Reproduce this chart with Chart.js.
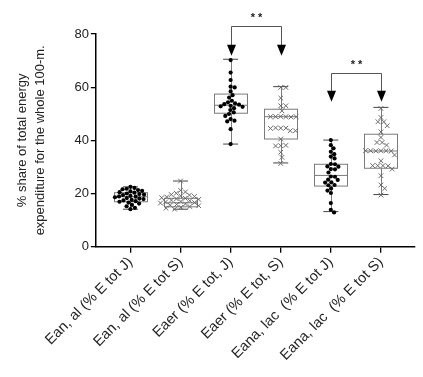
<!DOCTYPE html>
<html>
<head>
<meta charset="utf-8">
<script src="https://cdn.jsdelivr.net/npm/chart.js@4.4.0/dist/chart.umd.min.js"></script>
<style>
  html, body { margin: 0; padding: 0; background: #fff; }
  #wrap { width: 423px; height: 377px; }
</style>
</head>
<body>
<div id="wrap"><canvas id="graphicEnergy"></canvas></div>
<script>
// Energy share box plots (J dots / S crosses)
const categories = [
  'Ean, al (% E tot J)', 'Ean, al (% E tot S)',
  'Eaer (% E tot, J)', 'Eaer (% E tot, S)',
  'Eana, lac  (% E tot J)', 'Eana, lac  (% E tot S)'
];
const yTitle = ['% share of total energy', 'expenditure for the whole 100-m.'];

// individual values
const eanAlJ = [22.5, 22.1, 21.8, 21.6, 21.3, 21.0, 20.8, 20.5, 20.3, 20.0, 19.8, 19.6, 19.4, 19.1, 18.9,
  18.8, 18.6, 18.3, 18.1, 17.9, 17.6, 17.4, 17.1, 16.9, 16.6, 16.2, 15.7, 15.2, 14.6, 14.1];
const eanAlS = [24.7, 21.2, 20.6, 20.1, 19.6, 19.4, 19.1, 18.9, 18.7, 18.4, 18.2, 18.0, 17.8, 17.5,
  17.3, 17.0, 16.8, 16.6, 16.4, 16.1, 15.9, 15.6, 15.4, 15.1, 14.8, 14.5, 14.1];
const eaerJ = [70.2, 65.5, 62.7, 60.2, 59.9, 58.4, 57.0, 56.1, 54.9, 54.3, 53.9, 53.6, 53.4, 53.0,
  52.8, 52.6, 52.1, 51.4, 50.5, 49.9, 49.2, 48.0, 47.4, 47.1, 44.2, 38.6];
const eaerS = [59.9, 59.9, 55.9, 53.0, 53.0, 51.1, 49.0, 48.9, 48.9, 48.8, 48.9, 48.9, 44.6, 44.6,
  44.7, 44.5, 43.6, 43.6, 40.5, 38.0, 38.1, 37.9, 35.5, 33.6, 31.3];
const eanaLacJ = [40.1, 38.2, 37.0, 35.7, 34.8, 33.9, 33.2, 31.1, 31.0, 30.2, 30.1, 29.2, 29.1, 27.9,
  26.4, 26.3, 25.2, 25.1, 24.2, 24.1, 23.2, 23.1, 21.9, 21.1, 20.2, 16.4, 13.9, 12.9];
const eanaLacS = [52.0, 48.6, 47.0, 47.0, 45.5, 43.2, 41.1, 39.2, 39.2, 38.2, 36.1, 36.1, 36.0, 36.1,
  36.0, 36.1, 34.5, 32.3, 30.5, 30.5, 30.4, 30.5, 29.2, 26.7, 23.2, 21.9, 19.4];

// box plot summary
const boxMin    = [14.1, 14.1, 38.6, 31.5, 13.2, 19.6];
const boxQ1     = [16.9, 15.0, 50.2, 40.5, 22.8, 29.5];
const boxMedian = [18.8, 16.5, 53.2, 48.9, 26.8, 36.0];
const boxQ3     = [20.3, 18.2, 57.4, 51.7, 31.0, 42.3];
const boxMax    = [22.5, 24.7, 70.5, 60.2, 40.1, 52.4];

// significance brackets (category numbers, bracket height, arrow tip)
const sigFrom  = [3, 5];
const sigTo    = [4, 6];
const sigTop   = [83.1, 65.5];
const sigTip   = [71.8, 54.5];
const sigLabel = ['**', '**'];

//---SWARM offsets (px per unit approximated from the plot size)
const PX_X = 50.6, PX_Y = 2.66;
function swarm(values, cat, dist){
  let placed = [];
  let out = [];
  values.forEach(v => {
    let py = v * PX_Y;
    let cands = [0];
    placed.forEach(p => {
      let dy = Math.abs(p.y - py);
      if (dy < dist) {
        let dx = Math.sqrt(dist * dist - dy * dy);
        cands.push(p.x + dx, p.x - dx);
      }
    });
    cands.sort((a, b) => Math.abs(a) - Math.abs(b));
    let px = 0;
    for (let c of cands) {
      let ok = placed.every(p => Math.hypot(p.x - c, p.y - py) >= dist - 0.01);
      if (ok) { px = c; break; }
    }
    placed.push({x: px, y: py});
    out.push({x: cat + px / PX_X, y: v});
  });
  return out;
}

const pointsJ = [].concat(swarm(eanAlJ, 1, 4.2), swarm(eaerJ, 3, 4.2), swarm(eanaLacJ, 5, 4.2));
const pointsS = [].concat(swarm(eanAlS, 2, 5.2), swarm(eaerS, 4, 5.2), swarm(eanaLacS, 6, 5.2));

//---BOX PLUGIN
const boxPlugin = {
  id: 'boxes',
  beforeDatasetsDraw(chart){
    const ctx = chart.ctx, xs = chart.scales.x, ys = chart.scales.y;
    ctx.save();
    for (let i = 0; i < categories.length; i++) {
      let cx = i + 1;
      let l = xs.getPixelForValue(cx - 0.33), r = xs.getPixelForValue(cx + 0.33);
      let cl = xs.getPixelForValue(cx - 0.15), cr = xs.getPixelForValue(cx + 0.15);
      let c = Math.round(xs.getPixelForValue(cx)) + 0.5;
      let yMin = ys.getPixelForValue(boxMin[i]), yQ1 = ys.getPixelForValue(boxQ1[i]);
      let yMed = ys.getPixelForValue(boxMedian[i]), yQ3 = ys.getPixelForValue(boxQ3[i]);
      let yMax = ys.getPixelForValue(boxMax[i]);
      ctx.strokeStyle = '#7a7a7a';
      ctx.lineWidth = 1;
      ctx.beginPath();
      ctx.moveTo(c, yMin); ctx.lineTo(c, yQ1);
      ctx.moveTo(c, yQ3); ctx.lineTo(c, yMax);
      ctx.stroke();
      ctx.strokeStyle = '#444';
      ctx.beginPath();
      ctx.moveTo(cl, yMin); ctx.lineTo(cr, yMin);
      ctx.moveTo(cl, yMax); ctx.lineTo(cr, yMax);
      ctx.stroke();
      ctx.strokeStyle = '#7a7a7a';
      ctx.strokeRect(Math.round(l) + 0.5, yQ3, Math.round(r - l), yQ1 - yQ3);
      ctx.beginPath();
      ctx.moveTo(l, yMed); ctx.lineTo(r, yMed);
      ctx.stroke();
    }
    ctx.restore();
  },
  afterDraw(chart){
    const ctx = chart.ctx, xs = chart.scales.x, ys = chart.scales.y;
    ctx.save();
    for (let i = 0; i < sigFrom.length; i++) {
      let x1 = Math.round(xs.getPixelForValue(sigFrom[i])) + 0.5;
      let x2 = Math.round(xs.getPixelForValue(sigTo[i])) + 0.5;
      let yt = Math.round(ys.getPixelForValue(sigTop[i])) + 0.5;
      let tip = ys.getPixelForValue(sigTip[i]);
      ctx.strokeStyle = '#555';
      ctx.lineWidth = 1;
      ctx.beginPath();
      ctx.moveTo(x1, tip - 10); ctx.lineTo(x1, yt); ctx.lineTo(x2, yt); ctx.lineTo(x2, tip - 10);
      ctx.stroke();
      ctx.fillStyle = '#000';
      [x1, x2].forEach(x => {
        ctx.beginPath();
        ctx.moveTo(x - 4.5, tip - 11); ctx.lineTo(x + 4.5, tip - 11); ctx.lineTo(x, tip);
        ctx.closePath();
        ctx.fill();
      });
      ctx.font = 'bold 11px "Liberation Sans", Arial, sans-serif';
      ctx.textAlign = 'center';
      ctx.textBaseline = 'bottom';
      ctx.fillStyle = '#222';
      ctx.fillText(sigLabel[i].split('').join(' '), (x1 + x2) / 2, yt - 3);
    }
    ctx.restore();
  }
};

const fontName = '"Liberation Sans", Arial, sans-serif';

let chart1 = new Chart(document.getElementById('graphicEnergy').getContext('2d'), {
  type: 'scatter',
  data: {
    datasets: [
      {
        label: 'J',
        data: pointsJ,
        pointStyle: 'circle',
        radius: 2.1,
        backgroundColor: '#000',
        borderColor: '#000',
        borderWidth: 0,
      },
      {
        label: 'S',
        data: pointsS,
        pointStyle: 'crossRot',
        radius: 3.3,
        borderColor: '#6a6a6a',
        borderWidth: 1,
      }
    ]
  },
  plugins: [boxPlugin],
  options: {
    responsive: true,
    maintainAspectRatio: false,
    animation: false,
    events: [],
    layout: { padding: { top: 34, right: 8, left: 13, bottom: 12 } },
    plugins: { legend: { display: false }, tooltip: { enabled: false } },
    scales: {
      x: {
        type: 'linear',
        min: 0.31,
        max: 6.68,
        afterBuildTicks: (axis) => { axis.ticks = categories.map((c, i) => ({ value: i + 1 })); },
        ticks: {
          autoSkip: false,
          minRotation: 45,
          maxRotation: 45,
          color: '#222',
          font: { family: fontName, size: 14.5 },
          padding: 1,
          callback: (v) => categories[Math.round(v) - 1] || ''
        },
        grid: { drawOnChartArea: false, drawTicks: true, tickLength: 6, color: '#000', lineWidth: 1.3 },
        border: { display: true, color: '#000', width: 1.5 }
      },
      y: {
        min: 0,
        max: 80,
        afterBuildTicks: (axis) => { axis.ticks = [0, 20, 40, 60, 80].map(v => ({ value: v })); },
        ticks: {
          color: '#222',
          font: { family: fontName, size: 13 },
          padding: 2
        },
        title: {
          display: true,
          text: yTitle,
          color: '#222',
          font: { family: fontName, size: 13, lineHeight: 1.4 },
          padding: { top: 0, bottom: 23 }
        },
        grid: { drawOnChartArea: false, drawTicks: true, tickLength: 5, color: '#000', lineWidth: 1.3 },
        border: { display: true, color: '#000', width: 1.5 }
      }
    }
  }
});
</script>
</body>
</html>
